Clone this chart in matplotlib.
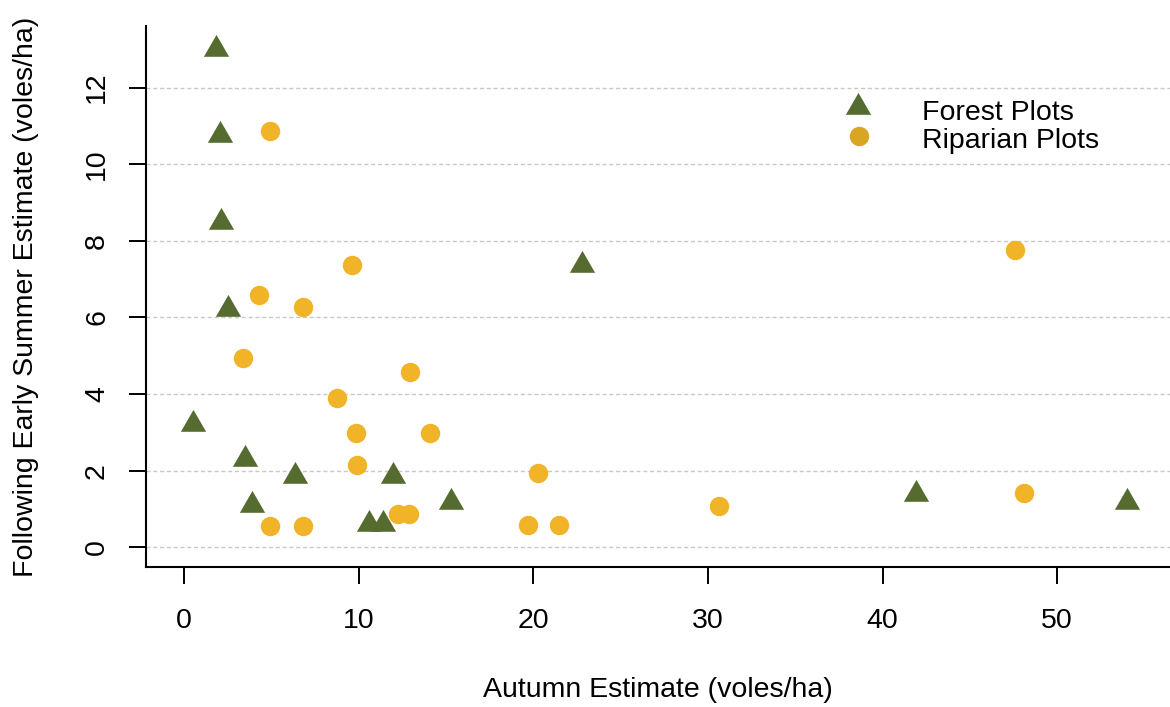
import matplotlib
matplotlib.use("Agg")
import matplotlib.pyplot as plt
from matplotlib.path import Path

# Vole density estimates (voles/ha): autumn vs. following early summer
forest_autumn = [1.84, 2.07, 2.11, 2.49, 22.8, 0.53, 3.47, 6.33, 11.94, 15.31,
                 3.89, 10.60, 11.37, 41.94, 53.98]
forest_summer = [13.0, 10.76, 8.49, 6.21, 7.37, 3.22, 2.30, 1.87, 1.87, 1.17,
                 1.10, 0.60, 0.60, 1.40, 1.19]

riparian_autumn = [4.91, 9.62, 6.79, 4.27, 3.35, 12.96, 8.78, 9.83, 14.11, 9.93,
                   4.91, 6.80, 12.23, 12.90, 20.28, 19.67, 21.45, 30.65, 48.09, 47.6]
riparian_summer = [10.88, 7.36, 6.27, 6.59, 4.94, 4.57, 3.90, 2.99, 2.99, 2.14,
                   0.56, 0.56, 0.86, 0.86, 1.95, 0.57, 0.57, 1.09, 1.43, 7.77]

x_ticks = [0, 10, 20, 30, 40, 50]
y_ticks = [0, 2, 4, 6, 8, 10, 12]
series_labels = ["Forest Plots", "Riparian Plots"]

FOREST_COLOR = "#556B2F"
RIPARIAN_COLOR = "#F1B428"
RIPARIAN_KEY_COLOR = "#DAA520"
FONT = ["Liberation Sans", "DejaVu Sans"]
FS = 20.5

plt.rcParams["font.family"] = FONT

# filled triangle centred on its centroid
tri = Path([(0.0, 1.0), (-0.8660254, -0.5), (0.8660254, -0.5), (0.0, 1.0)],
           [Path.MOVETO, Path.LINETO, Path.LINETO, Path.CLOSEPOLY])

fig = plt.figure(figsize=(11.70, 7.07), dpi=100)
W, H = 1170.0, 707.0
ax = fig.add_axes([146 / W, 140 / H, 1024 / W, 541 / H])

ax.plot(forest_autumn, forest_summer, linestyle="none", marker=tri,
        markersize=21, markerfacecolor=FOREST_COLOR, markeredgewidth=0,
        zorder=3)
ax.plot(riparian_autumn, riparian_summer, linestyle="none", marker="o",
        markersize=14, markerfacecolor=RIPARIAN_COLOR, markeredgewidth=0,
        zorder=3)

ax.set_xlim(-2.18, 56.46)
ax.set_ylim(-0.514, 13.61)

ax.set_xticks(x_ticks)
ax.set_xticklabels([str(v) for v in x_ticks], fontsize=FS)
ax.set_yticks(y_ticks)
ax.set_yticklabels([str(v) for v in y_ticks], fontsize=FS, rotation=90,
                   va="center")

ax.tick_params(axis="both", direction="out", length=12.2, width=1.4,
               color="black", labelcolor="black")
ax.tick_params(axis="x", pad=17)
ax.tick_params(axis="y", pad=13.7)

ax.set_axisbelow(True)
ax.grid(axis="y", color="#C8C8C8", linestyle=(0, (2.9, 2.0)), linewidth=1.0)
ax.grid(axis="x", visible=False)

for side in ("top", "right"):
    ax.spines[side].set_visible(False)
for side in ("left", "bottom"):
    ax.spines[side].set_linewidth(1.5)
    ax.spines[side].set_color("black")

ax.set_xlabel("Autumn Estimate (voles/ha)", fontsize=FS)
ax.set_ylabel("Following Early Summer Estimate (voles/ha)", fontsize=FS)
ax.xaxis.set_label_coords(0.5, -0.2033)
ax.yaxis.set_label_coords(-0.1042, 0.5)

# key (no frame)
ax.plot([0.695], [0.8497], transform=ax.transAxes, linestyle="none",
        marker=tri, markersize=21, markerfacecolor=FOREST_COLOR,
        markeredgewidth=0, clip_on=False)
ax.plot([0.6963], [0.7967], transform=ax.transAxes, linestyle="none",
        marker="o", markersize=14, markerfacecolor=RIPARIAN_KEY_COLOR,
        markeredgewidth=0, clip_on=False)
ax.text(0.7575, 0.8262, series_labels[0], transform=ax.transAxes,
        fontsize=FS, va="baseline", ha="left")
ax.text(0.7575, 0.774, series_labels[1], transform=ax.transAxes,
        fontsize=FS, va="baseline", ha="left")

fig.savefig("out.png", dpi=100, facecolor="white")
